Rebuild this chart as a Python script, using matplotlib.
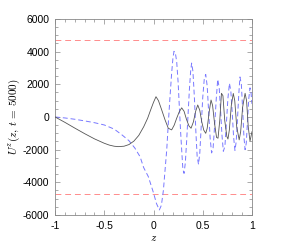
import matplotlib as mpl
mpl.use("Agg")
import matplotlib.pyplot as plt
from matplotlib.ticker import MultipleLocator, FuncFormatter

mpl.rcParams.update({
    "font.family": "sans-serif",
    "font.sans-serif": ["Liberation Sans", "DejaVu Sans"],
    "mathtext.fontset": "cm",
    "font.size": 7,
    "axes.linewidth": 0.6,
    "axes.unicode_minus": False,
})

# black (solid) curve
z_black = [-1.0, -0.9, -0.8, -0.7, -0.6, -0.5, -0.45, -0.4, -0.36, -0.3,
           -0.25, -0.2, -0.15, -0.1, -0.06, -0.03, 0.0, 0.025, 0.05, 0.083,
           0.117, 0.15, 0.184, 0.21, 0.235, 0.26, 0.286, 0.31, 0.335, 0.36,
           0.381, 0.405, 0.428, 0.449, 0.47, 0.49, 0.51, 0.53, 0.545, 0.565,
           0.584, 0.6, 0.62, 0.64, 0.655, 0.673, 0.69, 0.705, 0.723, 0.745,
           0.756, 0.77, 0.79, 0.81, 0.825, 0.845, 0.87, 0.885, 0.905, 0.93,
           0.945, 0.962, 0.98, 1.0]
u_black = [0, -330, -680, -1020, -1340, -1610, -1720, -1790, -1815, -1790,
           -1690, -1480, -1130, -600, -80, 420, 900, 1240, 1000, 430,
           -180, -690, -790, -500, -80, 300, 560, 350, -150, -550,
           -690, -300, 350, 735, 400, -300, -800, -1000, -700, 300,
           1040, 700, -400, -1250, -1300, -200, 1450, 1300, -200, -1200,
           -1350, -800, 700, 1440, 1000, -600, -1400, -900, 600, 1450,
           1000, -600, -1480, -900]

# blue (dashed) curve
z_blue = [-1.0, -0.9, -0.8, -0.7, -0.6, -0.5, -0.4, -0.32, -0.25, -0.19,
          -0.137, -0.1, -0.053, 0.0, 0.03, 0.059, 0.08, 0.1, 0.117, 0.134,
          0.15, 0.167, 0.184, 0.197, 0.208, 0.222, 0.235, 0.25, 0.262, 0.275,
          0.286, 0.298, 0.31, 0.323, 0.337, 0.352, 0.364, 0.377, 0.387, 0.4,
          0.415, 0.43, 0.443, 0.457, 0.47, 0.485, 0.5, 0.515, 0.53, 0.545,
          0.56, 0.575, 0.59, 0.605, 0.62, 0.637, 0.652, 0.667, 0.68, 0.695,
          0.709, 0.725, 0.74, 0.755, 0.771, 0.785, 0.8, 0.813, 0.827, 0.84,
          0.853, 0.866, 0.878, 0.892, 0.905, 0.918, 0.93, 0.942, 0.955, 0.967,
          0.98, 0.99, 1.0]
u_blue = [0, -60, -140, -240, -350, -490, -740, -1100, -1450, -1900,
          -2430, -3100, -3650, -4650, -5300, -5690, -5400, -4500, -3250, -2020,
          -400, 1200, 2680, 3600, 4020, 3900, 3400, 2100, 630, -900,
          -2020, -3200, -3450, -2800, -1400, 300, 1650, 2800, 3300, 2800,
          1200, -900, -2400, -2900, -2200, -500, 1200, 2300, 2600, 1900,
          300, -1300, -2200, -1900, -600, 1100, 2300, 1800, 500, -1100,
          -2100, -1800, -400, 1100, 2060, 1600, 200, -1200, -2050, -1500,
          -100, 1400, 2450, 2000, 500, -1200, -2000, -1600, -200, 1100,
          1780, 1500, 800]

# horizontal reference levels (red dashed)
ref_levels = [4730, -4730]

fig = plt.figure(figsize=(2.93, 2.46), dpi=100)
ax = fig.add_axes([0.188, 0.126, 0.672, 0.797])

for lev in ref_levels:
    ax.axhline(lev, color="#ff8c8c", lw=0.7, ls=(0, (6, 4)), zorder=1)

ax.plot(z_black, u_black, color="#555555", lw=0.6, zorder=3)
ax.plot(z_blue, u_blue, color="#7878ff", lw=0.7, ls=(0, (5, 3)), zorder=2)

ax.set_xlim(-1, 1)
ax.set_ylim(-6000, 6000)
ax.xaxis.set_major_locator(MultipleLocator(0.5))
ax.xaxis.set_minor_locator(MultipleLocator(0.1))
ax.yaxis.set_major_locator(MultipleLocator(2000))
ax.yaxis.set_minor_locator(MultipleLocator(500))
ax.xaxis.set_major_formatter(FuncFormatter(lambda v, p: f"{v:g}"))
ax.yaxis.set_major_formatter(FuncFormatter(lambda v, p: f"{v:g}"))
ax.tick_params(which="both", direction="in", top=True, right=True,
               color="#888888", width=0.5)
ax.tick_params(which="major", length=3.5, pad=4, labelsize=7.5)
ax.tick_params(which="minor", length=2)
for s in ax.spines.values():
    s.set_color("#888888")

ax.set_xlabel("$z$", fontsize=8, labelpad=2)
ax.set_ylabel("$U^z(z,\\,t\\,=\\,5000)$", fontsize=8, labelpad=1)

fig.savefig("out.png", dpi=100)
